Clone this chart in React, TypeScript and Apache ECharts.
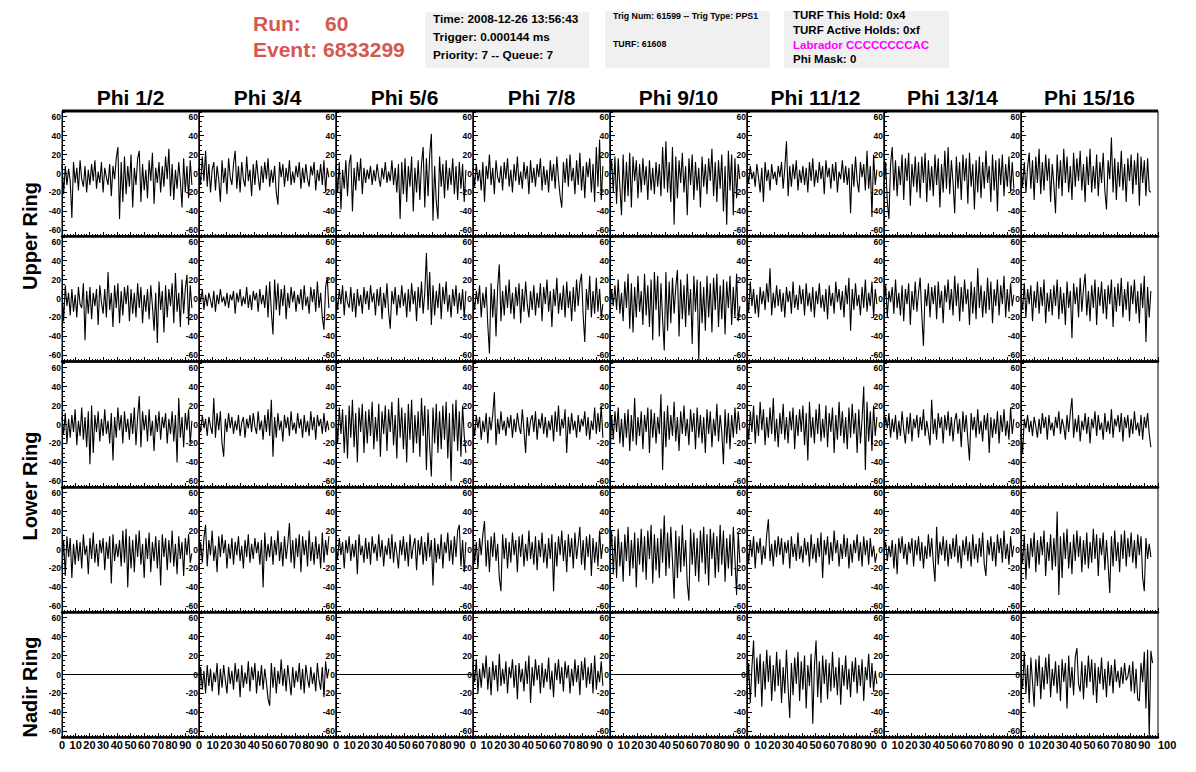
import React, { useEffect, useRef } from "react";
import * as echarts from "echarts";

const COLUMNS = ["Phi 1/2", "Phi 3/4", "Phi 5/6", "Phi 7/8", "Phi 9/10", "Phi 11/12", "Phi 13/14", "Phi 15/16"];
const RING_LABELS = ["Upper Ring", "Lower Ring", "Nadir Ring"];
const X_MIN = 0;
const X_MAX = 100;
const Y_MIN = -66;
const Y_MAX = 66;
const DT = 1.2; // ns per sample

// Upper ring, first row
const U1 = [10,-22,8,-12,5,-8,-47,12,-10,6,-18,14,-6,-14,8,-20,4,-12,10,-8,
  14,-16,2,-10,12,-20,6,-4,-12,10,-24,8,-6,16,28,-48,12,-30,18,-22,
  8,-14,20,-36,6,-12,16,24,-30,10,-18,4,-26,14,-8,22,-32,6,-10,12,
  -20,8,-14,18,-6,26,-24,10,-28,4,-16,12,-8,-36,16,-20,8,-26,14,-12];
const U2 = [6,-12,18,-8,24,-14,10,-20,4,12,-18,8,-6,-30,14,-10,6,-22,16,-4,
  -12,10,24,-16,8,-20,12,-6,-14,18,-8,4,-24,10,-12,14,-4,-18,8,-10,
  12,-6,16,-14,4,-10,8,-20,-33,12,-4,10,-14,6,-8,14,-12,2,-10,8,
  -4,12,-16,6,-10,10,-6,-14,8,-2,12,-18,4,-8,10,-12,14,-20,6,-4];
const U3 = [8,-20,12,-38,4,-16,14,-24,10,20,-40,6,-18,12,-8,16,-22,6,-10,4,
  -6,8,-12,4,-8,10,-4,-14,6,-6,12,-10,2,-8,14,-12,6,-20,10,-48,
  12,-22,16,-30,8,-14,18,-40,6,-20,14,-28,10,28,-36,16,-24,20,42,-50,
  8,-30,-48,18,-14,10,-26,14,-18,6,-12,16,-22,8,-28,12,-16,10,-30,4];
const U4 = [6,-14,10,-8,4,-18,12,-30,8,-6,20,-12,6,-22,14,-4,-10,8,-18,12,
  -6,16,-14,4,-20,10,-8,18,-12,2,-16,12,-6,8,-22,14,-10,6,-14,10,
  -4,16,-18,8,-12,4,-20,14,-8,10,-16,18,-6,-24,-36,12,-10,16,-14,20,
  -8,6,-22,14,-12,22,-18,8,-26,12,-4,16,-20,10,-30,28,-14,36,-28,8];
const U5 = [-6,14,-20,18,-32,16,-14,-44,20,-30,12,-24,22,-36,18,-8,14,-26,10,-20,
  16,-12,8,-28,14,-18,6,-22,12,-14,10,-24,28,-16,34,-20,12,-30,28,-54,
  18,-26,14,-10,22,-20,8,-44,16,-12,20,-28,12,-18,6,-36,18,-14,10,-22,
  16,-8,26,-24,12,-30,14,-16,20,-40,8,-54,24,-18,20,-44,16,-26,10,-6];
const U6 = [4,-10,8,-6,2,-14,10,-4,-20,6,-30,12,-8,4,-18,10,-6,2,-12,8,
  -4,12,-16,6,34,-24,8,-14,10,-6,14,-18,4,-10,8,-12,6,-20,12,-8,
  16,-14,4,-10,12,-6,8,-22,14,-4,6,-16,10,-8,12,-20,2,-6,14,-10,
  8,-12,6,-42,10,-14,18,-8,-20,12,-4,10,-18,24,-16,8,-46,20,-12,4];
const U7 = [-16,12,-30,-48,10,28,-18,14,-24,8,-12,20,-28,16,-8,22,-34,10,-14,18,
  -20,12,-26,18,-10,22,-30,14,-18,8,-24,20,-12,16,-36,10,-20,24,-16,28,
  -22,14,-10,-42,18,-16,12,-28,20,-8,16,-32,22,-14,10,-38,14,-20,18,-26,
  12,-16,24,-10,8,-30,20,-18,14,-40,16,-12,20,-24,10,-14,18,-20,12,-16];
const U8 = [8,-14,12,-20,6,22,-16,14,-28,18,-10,26,-22,12,-18,20,-8,16,-30,10,
  -12,-42,20,-16,14,-24,26,-10,18,-20,8,-28,22,-14,16,-8,24,-18,10,-30,
  18,-12,26,-20,8,-16,20,-24,12,-10,22,-18,-38,14,-6,38,-20,16,-28,12,
  -14,24,-18,10,-30,16,-8,20,-22,14,-12,22,-34,18,-10,14,-24,16,-18,-20];

// Upper ring, second row
const V1 = [8,-24,14,-8,6,-18,10,-14,4,-20,12,-6,-10,16,-44,8,-16,12,-22,6,
  -8,10,-28,14,-4,-16,10,-20,28,-12,6,-30,14,-10,16,-26,8,-18,12,-6,
  14,-24,10,-16,6,-20,16,-10,12,-26,4,-14,10,-22,14,-8,-34,6,-47,18,
  -12,8,-36,14,-20,10,-8,16,-26,27,-14,6,-30,20,-16,10,25,-28,14,-10];
const V2 = [8,-4,10,-12,4,-8,6,-2,-10,8,-14,4,-6,10,-4,2,-8,6,-10,4,
  -2,8,-16,6,-4,10,-8,2,-6,12,-10,4,-12,8,-2,6,-14,10,-6,4,
  -10,14,-20,18,-14,-38,20,-12,16,-18,10,-8,14,-22,6,-10,12,-4,8,-14,
  4,-6,10,-12,14,-8,2,-16,12,-4,10,-14,18,-10,6,-20,-33,12,22,-10];
const V3 = [4,-12,10,-6,14,-18,8,-4,-10,12,-14,6,-20,10,-8,4,-16,12,-6,8,
  -12,14,-4,6,-18,10,-8,12,-22,6,-10,16,-14,-32,8,-6,12,-18,4,-10,
  14,-8,6,-20,10,-14,16,-6,8,-24,12,-10,18,-16,6,48,-12,28,-28,14,
  -18,8,-10,16,-22,12,-6,18,-14,4,-20,10,-8,14,-16,6,-12,10,-20,8];
const V4 = [4,-12,8,-6,14,-20,6,-10,12,-28,-58,16,-20,10,-40,12,36,-24,8,-18,
  14,-10,20,-16,6,-22,12,-8,16,-26,10,-14,18,-6,-20,8,-12,14,-18,6,
  -10,16,-24,12,-6,20,-14,8,-30,10,-8,22,-16,6,-12,14,-20,18,-10,8,
  -24,12,-14,20,-8,16,26,-18,-46,10,-12,24,-20,8,-16,22,-14,10,-20,-6];
const V5 = [-20,10,-8,14,-12,20,-16,6,-24,18,-10,26,-32,16,-36,12,-20,24,-14,8,
  -28,26,-18,14,-30,20,-44,28,-12,24,-40,16,-22,-55,28,-34,18,-26,22,-16,
  12,30,-40,20,-22,14,-30,26,-18,10,-48,24,-14,20,-65,18,-26,12,-34,24,
  -20,16,-36,22,-12,26,-30,14,-22,20,-38,18,-10,24,-28,12,-20,26,-24,-8];
const V6 = [6,-14,18,-8,10,-16,4,-20,12,-6,8,-12,16,-4,32,-18,6,-10,14,-8,
  10,-14,6,-20,12,-4,8,-16,18,-10,4,-12,14,-6,10,-18,16,-8,6,-14,
  12,-20,8,-6,16,-10,4,-14,10,-22,14,-8,6,-16,18,-4,10,-12,8,-20,
  14,-6,22,-34,10,-12,16,-8,4,-18,12,-10,20,-14,6,-8,18,-20,10,-6];
const V7 = [-8,14,-20,8,-4,12,-16,20,-10,6,-18,14,-24,10,-6,16,-28,8,-12,18,
  -14,6,22,-18,-50,10,-8,16,-20,12,-6,14,-22,18,-10,8,-26,14,-4,20,
  -12,10,-18,24,-8,16,-24,12,-14,20,-6,10,-28,18,-16,12,-22,32,-10,14,
  -20,8,-16,22,-12,18,-26,10,-8,20,-18,14,-6,24,-20,10,-14,16,-8,4];
const V8 = [4,-12,16,-20,10,-6,14,-24,8,-10,18,-16,12,-8,20,-26,6,-14,10,-18,
  14,-8,20,-22,12,-16,6,-28,18,-10,8,-42,16,-6,12,-20,22,-14,10,26,
  -18,8,-24,14,-10,20,-28,12,-8,18,-16,10,-22,14,-6,20,-30,12,-14,16,
  -8,22,-20,10,-12,18,-24,14,-6,20,-16,8,-26,16,-10,24,-46,12,-20,8];

// Lower ring, first row
const W1 = [8,-10,12,-20,6,-14,10,-8,16,-22,4,-12,18,-16,8,-24,14,-42,20,-30,
  10,-8,14,-18,6,-12,16,-10,4,-20,12,-38,8,-14,18,-6,10,-20,14,-8,
  6,-16,12,-10,18,-22,8,30,-24,14,-6,10,-18,16,-12,4,-28,10,-8,14,
  -16,8,-4,12,-20,6,-10,14,-18,10,-40,28,-14,8,-24,12,-6,16,-20,4];
const W2 = [4,-8,10,-4,6,-12,8,-2,-10,28,-14,12,-6,14,-20,-34,6,-8,12,-4,
  8,-10,4,-6,10,-12,2,8,-14,6,-4,10,-8,12,-2,-10,14,-6,4,-16,
  10,-8,16,-12,26,-34,8,-14,12,-6,4,-18,10,-4,8,-12,14,-6,2,-10,
  12,-4,6,-14,10,-8,4,-12,14,-6,8,-16,10,-2,6,-10,12,-8,4,-6];
const W3 = [14,-20,18,-10,16,-30,10,-36,20,-14,26,-24,12,-40,18,-8,22,-30,14,-20,
  16,-12,24,-26,8,-18,22,-34,14,-10,20,-28,16,-8,24,-22,10,-36,28,-14,
  18,-26,12,-40,22,-16,26,-30,10,-20,14,-34,28,-12,20,-48,16,-24,-55,18,
  -20,22,-30,14,-26,20,-16,24,-36,12,-60,22,-18,26,-28,14,-34,20,-12,-30];
const W4 = [6,-12,10,-4,8,-16,4,-8,12,-20,8,-6,10,34,-22,6,-10,14,-6,4,
  -12,8,-4,10,-14,6,-8,12,-2,-10,16,-6,-30,8,-12,4,10,-8,14,-16,
  6,-4,12,-10,8,-14,4,-6,10,-18,14,-8,20,-12,6,-4,16,-30,8,-10,
  12,-6,4,-14,10,-8,6,-2,14,-12,8,-16,4,-6,18,-10,12,-8,20,-14];
const W5 = [-40,10,-16,14,-8,18,-20,6,-24,12,-14,16,-28,10,-18,28,-22,8,-12,14,
  -26,10,-8,18,-30,16,-14,12,-20,8,-10,32,-48,14,-24,20,-16,10,-12,24,
  -18,8,-28,14,-10,20,-12,6,-22,16,-8,12,-26,18,-14,10,-20,8,-30,16,
  -10,14,-24,6,-12,22,-18,10,-8,-42,16,-20,12,-26,10,-14,18,-10,14,-6];
const W6 = [6,-16,14,-8,20,-20,10,-12,24,-6,16,-22,8,-14,18,-10,28,-18,6,-24,
  12,-10,22,-16,8,-20,14,-6,18,-26,10,-12,16,-8,20,-22,12,-38,24,-14,
  8,-20,16,-10,22,-18,6,-14,20,-24,12,-8,18,-30,10,-16,24,-12,14,-20,
  8,-26,18,-14,22,-10,12,-30,16,-20,6,40,-48,24,-18,14,-28,20,-12,8];
const W7 = [-10,8,-4,12,-14,6,-8,10,-16,4,-12,14,-6,-20,8,-10,12,-18,6,-4,
  10,-14,8,-6,16,-12,4,-8,-22,26,-10,6,-16,12,-4,8,-20,10,-6,14,
  -12,8,-18,4,12,-10,6,-24,14,-8,10,-16,-38,12,-6,8,-14,16,-10,4,
  -18,10,-6,12,-30,8,-14,6,-10,14,-20,10,-8,16,-12,4,-16,18,-10,6];
const W8 = [-10,-30,6,-4,10,-8,4,-12,8,-2,-14,6,-10,12,-4,8,-16,10,-6,2,
  -12,8,-4,14,-10,6,-2,-16,10,-8,12,28,-14,6,-8,10,-18,4,-6,12,
  -10,8,-20,6,-4,14,-12,10,-6,2,-16,12,-8,4,-10,16,-14,6,-2,10,
  -8,12,-18,8,-4,10,-14,6,-10,14,-6,2,-12,10,-16,8,-4,12,-10,-24];

// Lower ring, second row
const X1 = [-20,10,-28,14,-8,12,-30,6,-16,10,-12,8,-20,16,-6,4,-26,12,-10,18,
  -14,6,-18,10,-4,12,-22,8,-10,14,-36,16,-12,6,-8,10,-18,20,-14,22,
  -40,14,-20,10,-24,16,-8,20,-16,6,-30,12,-10,18,-24,8,-12,14,-20,10,
  -38,16,-8,12,-22,10,-14,20,-18,6,-26,14,-10,8,-28,12,-6,16,-14,-4];
const X2 = [-20,8,-14,12,26,-18,10,-6,20,-12,4,-24,14,-8,16,-4,10,-20,6,-10,
  12,-16,8,-6,14,-12,4,-20,10,-8,16,-14,6,-10,12,-4,8,-16,10,-40,
  18,-12,6,-8,14,-16,10,-6,20,-12,8,-18,14,-10,6,28,-14,10,-20,12,
  -8,16,-24,14,-6,10,-18,20,-12,8,-16,14,-10,6,-20,18,-14,10,-6,14];
const X3 = [4,-10,12,-6,8,-20,10,-4,14,-12,6,-8,10,-26,16,-6,4,-14,12,-10,
  8,-16,14,-4,6,-12,16,-8,10,-18,4,-6,12,-10,16,-14,8,-4,-20,10,
  -6,14,-12,8,-18,16,-10,4,12,-22,10,-6,14,-16,8,-12,18,-8,10,-38,
  12,-14,6,-10,16,-20,8,-4,18,-12,10,-16,14,-8,20,26,-18,10,-24,8];
const X4 = [20,-14,8,-20,12,-6,16,30,-18,10,-24,14,-8,18,-12,6,-30,-44,16,-10,
  12,-20,8,-14,18,-6,10,-24,14,-8,16,-18,6,-12,20,-10,8,-16,14,-22,
  10,-8,18,-14,6,-20,12,-10,16,-44,8,-18,14,-6,20,-12,10,-24,16,-8,
  12,-20,18,-10,6,24,-16,10,-22,14,-8,16,-28,12,-14,8,-18,20,-10,6];
const X5 = [-10,20,-26,14,-30,22,-18,8,-34,16,-12,24,-28,10,-20,18,-40,12,-16,22,
  -24,14,-32,20,-10,26,-36,16,-22,12,-30,22,-14,36,-28,18,-20,24,-12,-52,
  20,-30,14,-24,26,-18,10,-36,-54,22,-16,18,-28,12,-34,20,-14,24,-26,16,
  -38,22,-10,18,-30,14,-24,26,-16,20,-34,12,-20,16,-28,24,-10,-48,18,-14];
const X6 = [6,-14,10,-8,14,-20,8,-4,12,-16,4,-10,16,32,-12,6,-18,10,-8,14,
  -6,12,-16,8,-4,10,-20,14,-8,6,-12,18,-10,4,-14,12,-6,8,-18,16,
  -10,6,-14,12,-8,18,-30,10,-6,14,-16,8,-12,20,-4,10,-18,6,-10,16,
  -8,12,-20,6,-14,10,-4,16,-12,8,-18,14,-6,10,-16,12,-8,4,-14,-4];
const X7 = [-2,8,-12,4,-8,10,-20,6,-26,12,-4,14,-10,6,-16,8,-4,12,-18,10,
  -6,14,-12,8,-20,4,-10,16,-8,12,-14,-34,24,-16,8,-6,14,-12,10,-18,
  6,-10,12,-8,16,-14,4,-20,10,-6,14,-12,8,-18,16,-10,6,-14,12,-8,
  18,-16,-28,10,-6,14,-12,8,-18,16,-4,12,-14,20,-10,6,-16,14,-8,4];
const X8 = [8,-14,16,-32,6,-20,12,-8,18,-24,10,-16,14,-6,20,-28,8,-12,16,-22,
  12,-18,40,-48,14,-30,18,-10,22,-20,8,-26,16,-12,20,-8,14,-24,10,-16,
  18,-20,8,-14,22,-10,16,-28,12,-6,18,-22,10,-16,-46,14,-18,20,-12,8,
  -24,16,-10,20,-18,12,-8,18,-14,10,-20,16,-6,14,-30,-44,12,-10,6,-8];

// Nadir ring (odd phi sectors read a flat zero line)
const Y2 = [-30,8,-16,4,-20,10,-12,6,-18,2,-8,12,-22,6,-14,10,-6,-20,8,-10,
  4,-16,12,-8,6,-24,10,-14,2,-10,14,-18,8,-6,12,-20,4,-12,10,-16,
  6,-8,-26,-33,12,-14,8,-20,4,-10,16,-12,6,-18,10,-6,-22,8,-14,4,
  -8,12,-16,6,-20,10,-4,-14,8,-10,2,-18,12,-6,-16,8,-24,14,-4,6];
const Y4 = [10,-8,16,-20,6,-14,12,-4,20,-16,8,-22,14,-6,10,-18,22,-12,6,-10,
  14,-20,8,-4,16,-14,10,-26,12,-8,6,-18,14,-10,20,-30,8,-12,16,-6,
  10,-20,12,-14,6,-8,18,-16,4,-24,12,-6,16,-10,8,-18,14,-4,10,-20,
  6,-12,16,-8,10,-22,14,-6,18,-14,8,-10,12,-20,20,-16,4,-8,14,-12];
const Y6 = [-20,12,-30,8,36,-24,18,-10,22,-34,14,-16,26,-8,20,-28,10,-18,24,-12,
  16,-30,8,-20,26,-14,-46,12,-22,18,-10,24,-28,14,-16,20,-36,10,-12,22,
  -52,8,36,-24,14,-30,20,-10,16,-26,12,-18,24,-14,8,-22,18,-32,10,-12,
  20,-16,6,-24,14,-8,18,-20,10,-12,16,-28,8,-6,22,-14,12,-18,4,-10];
const Y8 = [0,-14,24,-20,10,-30,18,-8,-34,16,-12,20,-26,8,-16,18,-10,22,-24,6,
  -12,14,-20,10,-28,16,-8,12,-36,20,-14,8,-22,18,28,-10,-18,14,-26,10,
  -14,20,-8,16,-22,12,-30,8,-10,18,-16,6,-24,14,-12,10,-20,16,-8,4,
  -14,8,-10,12,-6,-2,10,-18,14,-20,6,-26,-28,12,-8,24,-36,26,-66,25,12];

const ROWS: (number[] | null)[][] = [
  [U1, U2, U3, U4, U5, U6, U7, U8],
  [V1, V2, V3, V4, V5, V6, V7, V8],
  [W1, W2, W3, W4, W5, W6, W7, W8],
  [X1, X2, X3, X4, X5, X6, X7, X8],
  [null, Y2, null, Y4, null, Y6, null, Y8],
];

// layout (pixels)
const PLOT_LEFT = 62;
const PANEL_W = 137;
const ROW_TOPS = [111, 236, 362, 487, 612];
const PANEL_H = 125;
const FONT = '"Liberation Sans", Arial, Helvetica, sans-serif';

export default function App() {
  const ref = useRef<HTMLDivElement>(null);
  useEffect(() => {
    if (!ref.current) return;
    const chart = echarts.init(ref.current, undefined, { renderer: "svg" });
    const grids: any[] = [];
    const xAxes: any[] = [];
    const yAxes: any[] = [];
    const series: any[] = [];
    let idx = 0;
    ROWS.forEach((row, r) => {
      row.forEach((wave, c) => {
        const lastCol = c === row.length - 1;
        grids.push({
          left: PLOT_LEFT + c * PANEL_W,
          top: ROW_TOPS[r],
          width: PANEL_W,
          height: PANEL_H,
          show: true,
          borderColor: "#000",
          borderWidth: 1,
          backgroundColor: "transparent",
        });
        xAxes.push({
          gridIndex: idx,
          type: "value",
          min: X_MIN,
          max: X_MAX,
          interval: 10,
          axisLine: { show: true, onZero: false, lineStyle: { color: "#000", width: 2.5 } },
          axisTick: { show: true, inside: true, length: 4, lineStyle: { color: "#000", width: 1 } },
          minorTick: { show: true, splitNumber: 5, length: 2, lineStyle: { color: "#000", width: 1 } },
          splitLine: { show: false },
          axisLabel: {
            show: r === ROWS.length - 1,
            color: "#000",
            fontSize: 11,
            fontWeight: "bold",
            fontFamily: FONT,
            margin: 2,
            showMinLabel: true,
            showMaxLabel: lastCol,
            alignMaxLabel: lastCol ? "left" : undefined,
            hideOverlap: false,
          },
        });
        yAxes.push({
          gridIndex: idx,
          type: "value",
          min: Y_MIN,
          max: Y_MAX,
          splitNumber: 6,
          axisLine: { show: true, onZero: false, lineStyle: { color: "#000", width: 1 } },
          axisTick: { show: true, inside: true, length: 5, lineStyle: { color: "#000", width: 1 } },
          minorTick: { show: true, splitNumber: 4, length: 3, lineStyle: { color: "#000", width: 1 } },
          splitLine: { show: false },
          axisLabel: {
            color: "#000",
            fontSize: 8.5,
            fontWeight: "bold",
            fontFamily: FONT,
            margin: 1,
            formatter: (v: number) => (Math.abs(v) % 20 === 0 ? String(v) : ""),
          },
        });
        const data = wave
          ? wave.map((v, i) => [i * DT, v])
          : [[X_MIN, 0], [X_MAX, 0]];
        series.push({
          type: "line",
          xAxisIndex: idx,
          yAxisIndex: idx,
          data,
          symbol: "none",
          showSymbol: false,
          silent: true,
          lineStyle: { color: "#000", width: 1.1 },
        });
        idx++;
      });
    });

    const graphics: any[] = [];
    graphics.push({
      type: "line",
      shape: { x1: PLOT_LEFT, y1: ROW_TOPS[0], x2: PLOT_LEFT + 8 * PANEL_W, y2: ROW_TOPS[0] },
      style: { stroke: "#000", lineWidth: 3 },
    });
    COLUMNS.forEach((t, c) => {
      graphics.push({
        type: "text",
        x: PLOT_LEFT + c * PANEL_W + PANEL_W / 2,
        y: 97,
        style: { text: t, align: "center", verticalAlign: "middle", fill: "#000", font: `bold 21px ${FONT}` },
      });
    });
    const ringY = [236, 486, 687];
    RING_LABELS.forEach((t, i) => {
      graphics.push({
        type: "text",
        x: 30,
        y: ringY[i],
        rotation: Math.PI / 2,
        style: { text: t, align: "center", verticalAlign: "middle", fill: "#000", font: `bold 20px ${FONT}` },
      });
    });
    const red = "#d55752";
    graphics.push({ type: "text", x: 253, y: 23, style: { text: "Run:", fill: red, font: `bold 21px ${FONT}`, verticalAlign: "middle" } });
    graphics.push({ type: "text", x: 325, y: 23, style: { text: "60", fill: red, font: `bold 21px ${FONT}`, verticalAlign: "middle" } });
    graphics.push({ type: "text", x: 253, y: 49, style: { text: "Event: 6833299", fill: red, font: `bold 21px ${FONT}`, verticalAlign: "middle" } });

    const box = "#f0f0f0";
    graphics.push({ type: "rect", shape: { x: 425, y: 12, width: 164, height: 56 }, style: { fill: box } });
    graphics.push({ type: "rect", shape: { x: 605, y: 11, width: 165, height: 57 }, style: { fill: box } });
    graphics.push({ type: "rect", shape: { x: 784, y: 11, width: 165, height: 57 }, style: { fill: box } });
    const info = (text: string, x: number, y: number, size: number, fill = "#000") =>
      graphics.push({ type: "text", x, y, style: { text, fill, font: `bold ${size}px ${FONT}`, verticalAlign: "middle" } });
    info("Time: 2008-12-26 13:56:43", 433, 19, 11.8);
    info("Trigger: 0.000144 ms", 433, 37, 11.8);
    info("Priority: 7 -- Queue: 7", 433, 55, 11.8);
    info("Trig Num: 61599 -- Trig Type: PPS1", 613, 16, 8.8);
    info("TURF: 61608", 613, 44, 8.8);
    info("TURF This Hold: 0x4", 793, 15, 11.5);
    info("TURF Active Holds: 0xf", 793, 30, 11.5);
    info("Labrador CCCCCCCCAC", 793, 45, 11.5, "#ff00ff");
    info("Phi Mask: 0", 793, 59, 11.5);

    chart.setOption({
      animation: false,
      backgroundColor: "#fff",
      grid: grids,
      xAxis: xAxes,
      yAxis: yAxes,
      series,
      graphic: { elements: graphics },
    });
    return () => chart.dispose();
  }, []);
  return <div ref={ref} style={{ position: "fixed", left: 0, top: 0, width: 1196, height: 772 }} />;
}
